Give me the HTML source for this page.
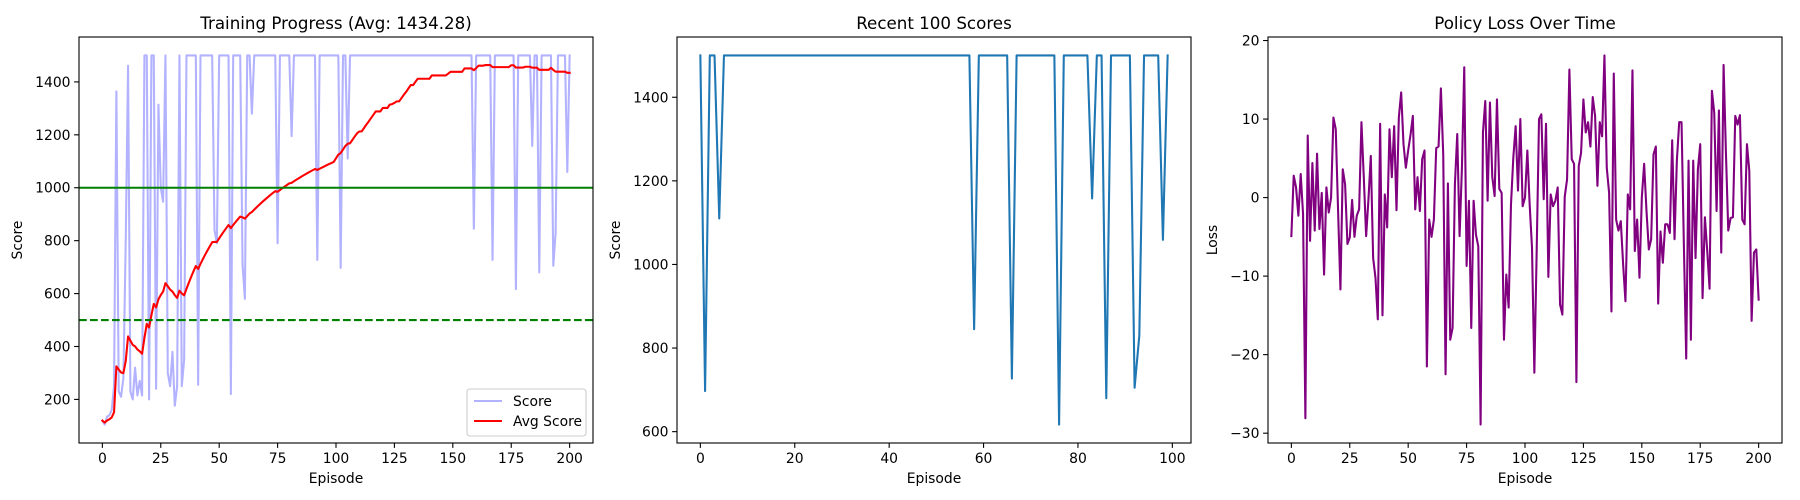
<!DOCTYPE html>
<html><head><meta charset="utf-8">
<style>
html,body{margin:0;padding:0;background:#fff;}
svg{display:block;font-family:"DejaVu Sans","Liberation Sans",sans-serif;}
</style></head>
<body>
<svg id="fig" width="1800" height="500" viewBox="0 0 1800 500" xmlns="http://www.w3.org/2000/svg"></svg>
<script>
// ---- data ----
const earlyScores = [120,105,135,140,160,250,1364,230,210,280,800,1461,230,200,320,215,270,215,1500,1500,
200,1500,1500,240,1314,1000,947,1500,300,250,380,176,250,1500,250,350,1500,1500,1500,1500,
1500,255,1500,1500,1500,1500,1500,1500,840,790,1500,1500,1500,1500,1500,220,1500,1500,1500,1500,
710,580,1500,1500,1280,1500,1500,1500,1500,1500,1500,1500,1500,1500,1500,790,1500,1500,1500,1500,
1500,1195,1500,1500,1500,1500,1500,1500,1500,1500,1500,1500,727,1500,1500,1500,1500,1500,1500,1500,1500];
const recentScores = [1500,697,1500,1500,1110,1500,1500,1500,1500,1500,1500,1500,1500,1500,1500,1500,1500,1500,1500,1500,
1500,1500,1500,1500,1500,1500,1500,1500,1500,1500,1500,1500,1500,1500,1500,1500,1500,1500,1500,1500,
1500,1500,1500,1500,1500,1500,1500,1500,1500,1500,1500,1500,1500,1500,1500,1500,1500,1500,845,1500,
1500,1500,1500,1500,1500,1500,727,1500,1500,1500,1500,1500,1500,1500,1500,1500,617,1500,1500,1500,
1500,1500,1500,1158,1500,1500,680,1500,1500,1500,1500,1500,705,830,1500,1500,1500,1500,1059,1500];
const lossValues = [-4.9,2.8,1.3,-2.3,3.0,-2.1,-28.1,7.9,-5.5,4.4,-4.2,5.6,-4.0,0.6,-9.8,1.3,-1.9,0.0,10.2,8.7,
-1.7,-11.7,3.6,1.7,-5.9,-5.1,-0.3,-5.0,-2.3,-1.5,9.6,2.6,-4.9,-0.2,5.3,-7.7,-10.2,-15.5,9.4,-15.0,
0.4,-3.8,8.7,2.6,9.1,-1.6,10.2,13.4,6.8,3.8,6.0,8.0,10.4,-1.5,2.6,-1.7,4.9,6.0,-21.5,-2.8,
-5.0,-2.8,6.3,6.5,13.9,5.5,-22.5,1.8,-18.1,-16.6,1.7,8.1,-4.9,3.8,16.6,-8.7,-0.4,-16.6,-0.4,-4.7,
-6.2,-28.9,8.3,12.3,-0.4,12.1,2.6,0.2,12.5,1.1,0.6,-18.1,-9.8,-14.0,-0.9,5.1,9.1,0.9,10.0,-1.1,
0.0,6.0,-0.9,-6.4,-22.3,-6.8,10.0,10.6,-0.2,9.4,-10.1,0.4,-1.1,-0.4,1.3,-13.6,-14.9,0.1,2.3,16.3,
4.9,4.3,-23.5,4.0,5.7,12.5,8.3,9.6,6.5,12.8,10.4,1.5,9.6,7.8,18.1,3.8,0.6,-14.5,15.8,-2.8,
-4.2,-3.0,-8.5,-13.2,0.4,-1.5,16.2,-6.8,-2.8,-10.2,0.0,4.3,-1.7,-6.6,-5.3,5.5,6.5,-13.5,-4.3,-8.3,
-3.4,-3.4,-4.5,7.3,-5.3,4.7,9.6,9.6,-6.0,-20.5,4.7,-18.1,4.7,-7.7,3.6,6.8,-12.8,-2.5,-6.8,-11.6,
13.6,10.8,-1.7,11.1,-7.0,16.9,5.7,-4.2,-2.6,-2.5,10.4,9.3,10.5,-2.8,-3.4,6.8,3.4,-15.7,-7.0,-6.6,-13.0];
const scoreYTicks = [200,400,600,800,1000,1200,1400];
const scoreXTicks = [0,25,50,75,100,125,150,175,200];
const recentYTicks = [600,800,1000,1200,1400];
const recentXTicks = [0,20,40,60,80,100];
const lossYTicks = [-30,-20,-10,0,10,20];
const thresholdLines = [1000,500];

const scores = earlyScores.concat(recentScores);
const avgScores = scores.map((v,i)=>{const s=scores.slice(Math.max(0,i-99),i+1);return s.reduce((a,b)=>a+b,0)/s.length;});
const avgFinal = avgScores[avgScores.length-1];

// ---- helpers ----
const NS='http://www.w3.org/2000/svg';
const svg=document.getElementById('fig');
function mk(tag,attrs,parent){const e=document.createElementNS(NS,tag);for(const k in attrs)e.setAttribute(k,attrs[k]);(parent||svg).appendChild(e);return e;}
function fmt(v){return v<0?'\u2212'+Math.abs(v):String(v);}
const TOP=37,BOT=443;
function makeAxes(x0,x1,xmin,xmax,ymin,ymax){
  const sx=v=>x0+(v-xmin)/(xmax-xmin)*(x1-x0);
  const sy=v=>BOT-(v-ymin)/(ymax-ymin)*(BOT-TOP);
  return {x0,x1,sx,sy};
}
function lims(arrs){let mn=Infinity,mx=-Infinity;arrs.forEach(a=>a.forEach(v=>{mn=Math.min(mn,v);mx=Math.max(mx,v);}));const m=(mx-mn)*0.05;return [mn-m,mx+m];}
function drawFrame(ax,xticks,yticks,title,xlabel,ylabel,ylabelX,key){
  const g=mk('g',{});
  
  
  xticks.forEach(t=>{const x=ax.sx(t);
    const l=mk('line',{x1:x,x2:x,y1:BOT,y2:BOT+4.9,stroke:'#000','stroke-width':1.1},g);
    
    const tx=mk('text',{x:x,y:BOT+20,'font-size':13.9,'text-anchor':'middle',fill:'#000'},g);
    
    tx.textContent=fmt(t);});
  yticks.forEach(t=>{const y=ax.sy(t);
    const l=mk('line',{x1:ax.x0-4.9,x2:ax.x0,y1:y,y2:y,stroke:'#000','stroke-width':1.1},g);
    
    const tx=mk('text',{x:ax.x0-8.5,y:y+5,'font-size':13.9,'text-anchor':'end',fill:'#000'},g);
    
    tx.textContent=fmt(t);});
  const tt=mk('text',{x:(ax.x0+ax.x1)/2,y:29,'font-size':16.7,'text-anchor':'middle',fill:'#000'},g);
  
  tt.textContent=title;
  const xl=mk('text',{x:(ax.x0+ax.x1)/2,y:483,'font-size':13.9,'text-anchor':'middle',fill:'#000'},g);
  
  xl.textContent=xlabel;
  const yc=(TOP+BOT)/2;
  const yl=mk('text',{x:ylabelX,y:yc,'font-size':13.9,'text-anchor':'middle',fill:'#000',transform:'rotate(-90 '+ylabelX+' '+yc+')'},g);
  
  yl.textContent=ylabel;
}
function border(ax){
  const r=mk('rect',{x:ax.x0,y:TOP,width:ax.x1-ax.x0,height:BOT-TOP,fill:'none',stroke:'#000','stroke-width':1.1});
  
}
function series(ax,vals,color,w,name,opacity){
  const pts=vals.map((v,i)=>ax.sx(i).toFixed(2)+','+ax.sy(v).toFixed(2)).join(' ');
  const p=mk('polyline',{points:pts,fill:'none',stroke:color,'stroke-width':w,'stroke-linejoin':'round','stroke-linecap':'square'});
  if(opacity)p.setAttribute('stroke-opacity',opacity);
  
}

// ---- panel 1 ----
(function(){
  const n=scores.length;const xm=(n-1)*0.05;
  const [y0,y1]=lims([scores,avgScores]);
  const ax=makeAxes(79,593,-xm,n-1+xm,y0,y1);
  drawFrame(ax,scoreXTicks,scoreYTicks,'Training Progress (Avg: '+avgFinal.toFixed(2)+')','Episode','Score',22,'training-progress');
  series(ax,scores,'#0000ff',2.08,'score-line',0.3);
  series(ax,avgScores,'#ff0000',2.08,'avg-score-line');
  thresholdLines.forEach((t,i)=>{const y=ax.sy(t);
    const l=mk('line',{x1:ax.x0,x2:ax.x1,y1:y,y2:y,stroke:'#008000','stroke-width':2.08});
    if(i===1)l.setAttribute('stroke-dasharray','7.7,3.3');
    
    });
  border(ax);
  const lg=mk('g',{});
  
  
  mk('rect',{x:467,y:389,width:119,height:47,rx:3,fill:'#fff','fill-opacity':0.8,stroke:'#ccc','stroke-width':1.1},lg);
  const l1=mk('line',{x1:474,x2:502,y1:401,y2:401,stroke:'#0000ff','stroke-opacity':0.3,'stroke-width':2.08},lg);
  
  const t1=mk('text',{x:513,y:406,'font-size':13.9,fill:'#000'},lg);t1.textContent='Score';
  
  const l2=mk('line',{x1:474,x2:502,y1:421,y2:421,stroke:'#ff0000','stroke-width':2.08},lg);
  
  const t2=mk('text',{x:513,y:426,'font-size':13.9,fill:'#000'},lg);t2.textContent='Avg Score';
  
})();

// ---- panel 2 ----
(function(){
  const n=recentScores.length;const xm=(n-1)*0.05;
  const [y0,y1]=lims([recentScores]);
  const ax=makeAxes(677,1191,-xm,n-1+xm,y0,y1);
  drawFrame(ax,recentXTicks,recentYTicks,'Recent 100 Scores','Episode','Score',620,'recent-scores');
  series(ax,recentScores,'#1f77b4',2.08,'recent-score-line');
  border(ax);
})();

// ---- panel 3 ----
(function(){
  const n=lossValues.length;const xm=(n-1)*0.05;
  const [y0,y1]=lims([lossValues]);
  const ax=makeAxes(1268,1782,-xm,n-1+xm,y0,y1);
  drawFrame(ax,scoreXTicks,lossYTicks,'Policy Loss Over Time','Episode','Loss',1217,'policy-loss');
  series(ax,lossValues,'#800080',2.08,'loss-line');
  border(ax);
})();
</script>
</body></html>
